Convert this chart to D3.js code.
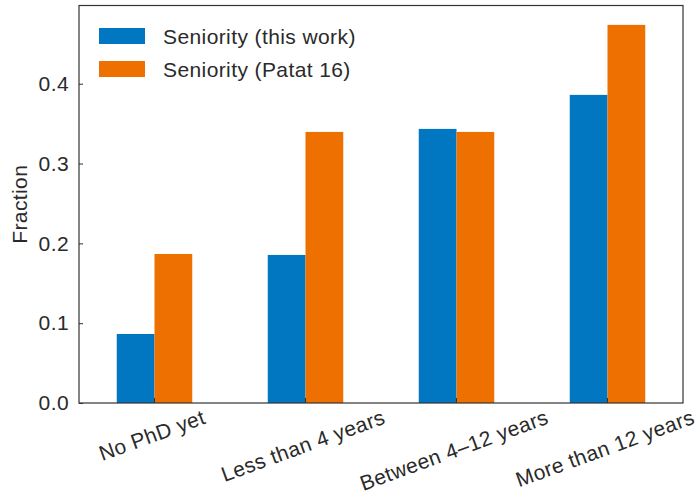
<!DOCTYPE html>
<html><head><meta charset="utf-8">
<script src="https://cdn.jsdelivr.net/npm/d3@7"></script>
<style>body{margin:0;background:#fff}svg{display:block}text{font-family:"Liberation Sans",Arial,sans-serif;fill:#2a2a2a;letter-spacing:0.4px}</style>
</head><body>
<svg id="c" width="698" height="495"></svg>
<script>
const categories = ["No PhD yet", "Less than 4 years", "Between 4\u201312 years", "More than 12 years"];
const seriesNames = ["Seniority (this work)", "Seniority (Patat 16)"];
const thisWork = [0.0865, 0.1855, 0.3434, 0.386];
const patat16 = [0.1867, 0.3396, 0.3396, 0.4737];
const yTicks = [0, 0.1, 0.2, 0.3, 0.4];
const yMax = 0.498;
const colors = ["#0077c0", "#ee7000"];

const svg = d3.select("#c");
const L = 79, R = 683, T = 5.5, B = 403;
const fs = 21;
const x = d3.scaleBand().domain(categories).range([L, R]).paddingInner(0.5).paddingOuter(0.25);
const xs = d3.scaleBand().domain(seriesNames).range([0, x.bandwidth()]);
const y = d3.scaleLinear().domain([0, yMax]).range([B, T]);
const series = [thisWork, patat16];

// bars
series.forEach((vals, si) => {
  svg.append("g").selectAll("rect").data(vals).join("rect")
    .attr("x", (d, i) => x(categories[i]) + xs(seriesNames[si]))
    .attr("width", xs.bandwidth())
    .attr("y", d => y(d))
    .attr("height", d => B - y(d))
    .attr("fill", colors[si]);
});

// frame
svg.append("rect").attr("x", L).attr("y", T).attr("width", R - L).attr("height", B - T)
  .attr("fill", "none").attr("stroke", "#333").attr("stroke-width", 1.2);

// y axis
const ya = svg.append("g").attr("transform", `translate(${L},0)`)
  .call(d3.axisLeft(y).tickValues(yTicks).tickFormat(d3.format(".1f")).tickSizeInner(-4).tickSizeOuter(0).tickPadding(10));
ya.select(".domain").remove();
ya.selectAll("line").attr("stroke", "#333");
ya.selectAll("text").attr("font-size", fs).attr("fill", "#2a2a2a").style("font-family", '"Liberation Sans",Arial,sans-serif');

// x axis ticks
const xa = svg.append("g").attr("transform", `translate(0,${B})`)
  .call(d3.axisBottom(x).tickSizeInner(-5).tickSizeOuter(0).tickFormat(""));
xa.select(".domain").remove();
xa.selectAll("line").attr("stroke", "#333");

// rotated x labels
const lbls = svg.append("g").selectAll("text").data(categories).join("text")
  .attr("font-size", fs).attr("text-anchor", "middle").text(d => d);
const a = 20 * Math.PI / 180;
lbls.each(function(d) {
  const w = this.getComputedTextLength();
  const tx = x(d) + x.bandwidth() / 2;
  const ty = 423 + (w / 2) * Math.sin(a);
  d3.select(this).attr("transform", `translate(${tx},${ty}) rotate(-20)`);
});

// y label
svg.append("text").attr("transform", `translate(27,${(T + B) / 2}) rotate(-90)`)
  .attr("text-anchor", "middle").attr("font-size", fs).text("Fraction");

// legend
const lg = svg.append("g");
seriesNames.forEach((n, i) => {
  const cy = 36 + i * 33;
  lg.append("rect").attr("x", 99).attr("y", cy - 8).attr("width", 46).attr("height", 16).attr("fill", colors[i]);
  lg.append("text").attr("x", 163).attr("y", cy).attr("dy", "0.36em").attr("font-size", fs).text(n);
});
</script>
</body></html>
